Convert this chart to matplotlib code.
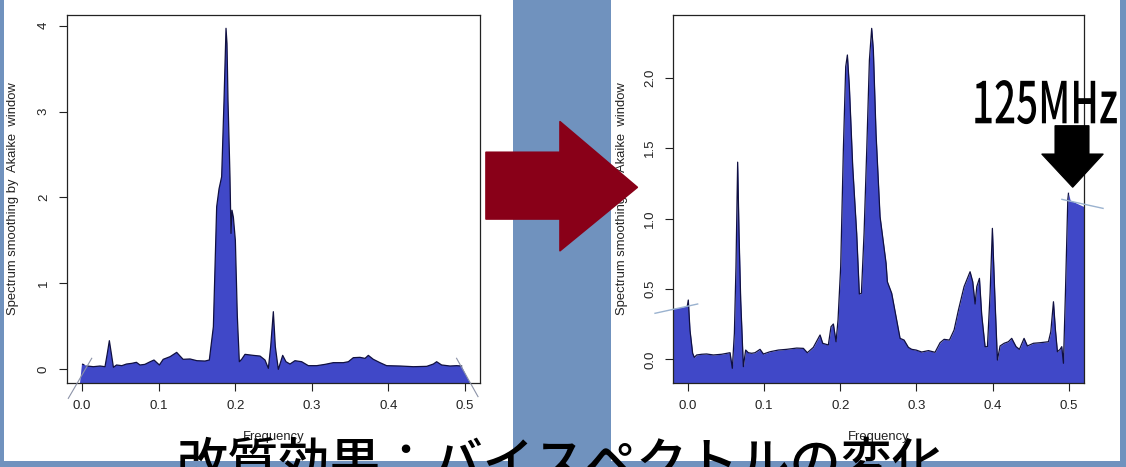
import matplotlib
matplotlib.use("Agg")
import matplotlib.pyplot as plt
from matplotlib.patches import Rectangle, Polygon
from matplotlib.patheffects import AbstractPathEffect
from matplotlib.transforms import Affine2D

# ---------------- data ----------------
# Bispectrum smoothed by Akaike window, before treatment
left_freq = [0.000, 0.007, 0.0148, 0.0235, 0.030, 0.033, 0.0357, 0.0383, 0.041, 0.045,
             0.052, 0.058, 0.065, 0.071, 0.0757, 0.082, 0.089, 0.094, 0.101, 0.106,
             0.115, 0.1236, 0.128, 0.132, 0.141, 0.150, 0.1606, 0.1662, 0.1715, 0.1758,
             0.1789, 0.1823, 0.1854, 0.188, 0.1893, 0.1906, 0.1932, 0.1945, 0.1958, 0.1976,
             0.2002, 0.2028, 0.2054, 0.2084, 0.2128, 0.2237, 0.2324, 0.2389, 0.2433, 0.2463,
             0.2498, 0.2524, 0.2563, 0.262, 0.2663, 0.2715, 0.278, 0.2868, 0.2955, 0.3064,
             0.3172, 0.3281, 0.3412, 0.3477, 0.3542, 0.3629, 0.3695, 0.3738, 0.3803, 0.389,
             0.3977, 0.4151, 0.4326, 0.450, 0.4587, 0.463, 0.4695, 0.4804, 0.4891, 0.4956]
left_spec = [0.058, 0.035, 0.027, 0.035, 0.027, 0.18, 0.33, 0.18, 0.02, 0.047,
             0.039, 0.058, 0.066, 0.078, 0.047, 0.054, 0.085, 0.105, 0.047, 0.113,
             0.144, 0.194, 0.151, 0.113, 0.117, 0.097, 0.093, 0.105, 0.493, 1.89,
             2.10, 2.24, 3.13, 3.97, 3.79, 3.13, 2.24, 1.58, 1.85, 1.77,
             1.50, 0.61, 0.085, 0.113, 0.171, 0.159, 0.151, 0.105, 0.008, 0.26,
             0.668, 0.26, -0.004, 0.159, 0.085, 0.058, 0.097, 0.085, 0.039, 0.039,
             0.054, 0.074, 0.074, 0.085, 0.132, 0.136, 0.124, 0.159, 0.113, 0.074,
             0.039, 0.035, 0.027, 0.031, 0.058, 0.085, 0.047, 0.035, 0.039, 0.035]
left_edge_freq = [-0.0026, 0.5065]
left_edge_lines = [((-0.0179, 0.0127), (-0.342, 0.125)),
                   ((0.489, 0.517), (0.125, -0.322))]

# After treatment
right_freq = [-0.0193, -0.0105, -0.0009, 0.0004, 0.0026, 0.0061, 0.0083, 0.0114, 0.018, 0.0245,
              0.0333, 0.0442, 0.0552, 0.0582, 0.0609, 0.063, 0.0652, 0.067, 0.0692, 0.0727,
              0.0757, 0.0792, 0.0836, 0.088, 0.0946, 0.099, 0.1077, 0.1187, 0.1296, 0.1427,
              0.1515, 0.1567, 0.1646, 0.1734, 0.1769, 0.1843, 0.1878, 0.1909, 0.1944, 0.197,
              0.2005, 0.204, 0.2071, 0.2093, 0.2119, 0.2163, 0.2215, 0.225, 0.2277, 0.2312,
              0.2347, 0.2382, 0.2412, 0.2434, 0.2469, 0.2522, 0.2601, 0.2618, 0.2675, 0.2732,
              0.2785, 0.2837, 0.2894, 0.2938, 0.2995, 0.3069, 0.3157, 0.3244, 0.331, 0.3363,
              0.3433, 0.3494, 0.3551, 0.3625, 0.3704, 0.3739, 0.377, 0.3792, 0.3827, 0.3857,
              0.3901, 0.3932, 0.3967, 0.3997, 0.4028, 0.4063, 0.4098, 0.4151, 0.4207, 0.4251,
              0.4308, 0.4352, 0.4413, 0.4457, 0.4536, 0.4623, 0.4733, 0.4764, 0.4799, 0.4825,
              0.4851, 0.4886, 0.4908, 0.493, 0.4956, 0.4987, 0.4996, 0.5018, 0.5105, 0.5201]
right_spec = [0.362, 0.369, 0.379, 0.421, 0.208, 0.043, 0.014, 0.031, 0.036, 0.038,
              0.031, 0.036, 0.047, -0.064, 0.185, 0.658, 1.40, 0.895, 0.421, -0.052,
              0.066, 0.047, 0.043, 0.047, 0.071, 0.038, 0.054, 0.066, 0.071, 0.080,
              0.078, 0.047, 0.085, 0.173, 0.114, 0.102, 0.232, 0.251, 0.125, 0.279,
              0.658, 1.486, 2.078, 2.161, 1.936, 1.368, 0.895, 0.464, 0.469, 0.895,
              1.486, 2.125, 2.35, 2.196, 1.605, 1.013, 0.682, 0.551, 0.469, 0.303,
              0.149, 0.137, 0.085, 0.071, 0.066, 0.052, 0.062, 0.050, 0.118, 0.142,
              0.137, 0.208, 0.350, 0.516, 0.622, 0.551, 0.393, 0.516, 0.575, 0.315,
              0.090, 0.090, 0.469, 0.930, 0.469, -0.005, 0.095, 0.114, 0.125, 0.149,
              0.090, 0.071, 0.149, 0.095, 0.114, 0.118, 0.125, 0.196, 0.409, 0.208,
              0.054, 0.071, 0.090, -0.028, 0.469, 1.131, 1.179, 1.131, 1.108, 1.084]
right_edge_lines = [((-0.0433, 0.0127), (0.327, 0.393)),
                    ((0.491, 0.545), (1.136, 1.072))]

x_ticks = [0.0, 0.1, 0.2, 0.3, 0.4, 0.5]
x_tick_labels = ["0.0", "0.1", "0.2", "0.3", "0.4", "0.5"]
left_y_ticks = [0, 1, 2, 3, 4]
left_y_tick_labels = ["0", "1", "2", "3", "4"]
right_y_ticks = [0.0, 0.5, 1.0, 1.5, 2.0]
right_y_tick_labels = ["0.0", "0.5", "1.0", "1.5", "2.0"]

y_label = "Spectrum smoothing by  Akaike  window"
x_label = "Frequency"
title = "改質効果：バイスペクトルの変化"
marker_label = "125MHz"

# ---------------- styling ----------------
W, H = 1126, 467
SLIDE_BLUE = "#7092be"
FILL = "#4048c8"
R_FONT = "Liberation Sans"
JP_FONT = ["Noto Sans CJK JP", "DejaVu Sans"]

fig = plt.figure(figsize=(W / 100, H / 100), dpi=100)
fig.patch.set_facecolor(SLIDE_BLUE)


def fx(px):
    return px / W


def fy(py):
    return 1 - py / H


# background panels
bg = fig.add_axes([0, 0, 1, 1], zorder=0)
bg.set_xlim(0, W)
bg.set_ylim(H, 0)
bg.axis("off")
bg.add_patch(Rectangle((4, 0), 509, 461, facecolor="white", edgecolor="none"))
bg.add_patch(Rectangle((611, 0), 509, 461, facecolor="white", edgecolor="none"))


def spectrum_axes(rect, xlim, ylim, yticks, yticklabels):
    ax = fig.add_axes(rect, zorder=1)
    ax.set_facecolor("none")
    ax.set_xlim(*xlim)
    ax.set_ylim(*ylim)
    ax.set_xticks(x_ticks)
    ax.set_xticklabels(x_tick_labels, fontfamily=R_FONT, fontsize=9.5, color="#222222")
    ax.set_yticks(yticks)
    ax.set_yticklabels(yticklabels, fontfamily=R_FONT, fontsize=9.5, color="#222222",
                       rotation=90, va="center")
    ax.tick_params(direction="out", length=5.8, width=0.8, color="#222222", pad=6.5)
    for s in ax.spines.values():
        s.set_color("#222222")
        s.set_linewidth(0.9)
    return ax


# left panel: before
axL = spectrum_axes([fx(67), fy(383), fx(413), 368 / H], (-0.0196, 0.5196), (-0.163, 4.125),
                    left_y_ticks, left_y_tick_labels)
ybot = axL.get_ylim()[0]
polyL = ([(left_edge_freq[0], ybot)] + list(zip(left_freq, left_spec))
         + [(left_edge_freq[1], ybot)])
axL.add_patch(Polygon(polyL, closed=True, facecolor=FILL, edgecolor="none", zorder=2))
axL.plot(left_freq[1:], left_spec[1:], color="#101040", lw=0.9, zorder=3)
axL.plot(left_freq[:2], left_spec[:2], color="#101040", lw=0.9, ls=(0, (2, 2)), zorder=3)
for xs, ys in left_edge_lines:
    axL.plot(xs, ys, color="#8c93a8", lw=0.8, clip_on=False, zorder=4)

# right panel: after
axR = spectrum_axes([fx(673.3), fy(383), fx(410.7), 368 / H], (-0.0193, 0.520), (-0.168, 2.445),
                    right_y_ticks, right_y_tick_labels)
ybotR = axR.get_ylim()[0]
axR.fill_between(right_freq, right_spec, ybotR, color=FILL, lw=0, zorder=2)
axR.plot(right_freq[2:-3], right_spec[2:-3], color="#101040", lw=0.9, zorder=3)
for xs, ys in right_edge_lines:
    axR.plot(xs, ys, color="#9ab2cf", lw=1.0, clip_on=False, zorder=4)

# axis titles
for cx in (13, 621.7):
    fig.text(fx(cx), fy(199), y_label, rotation=90, ha="center", va="center",
             fontfamily=R_FONT, fontsize=9.4, color="#222222", zorder=2)
for cx in (273.5, 878.7):
    fig.text(fx(cx), fy(437), x_label, ha="center", va="center",
             fontfamily=R_FONT, fontsize=9.4, color="#222222", zorder=2)

# overlay: arrows and captions
ov = fig.add_axes([0, 0, 1, 1], zorder=3)
ov.set_xlim(0, W)
ov.set_ylim(H, 0)
ov.axis("off")
ov.patch.set_alpha(0)

red_arrow = [(486, 152.3), (560, 152.3), (560, 121.7), (637.3, 187.3),
             (560, 250.7), (560, 219), (486, 219)]
ov.add_patch(Polygon(red_arrow, closed=True, facecolor="#890018", edgecolor="#890018",
                     lw=1.2, joinstyle="round"))
black_arrow = [(1055, 125.7), (1089, 125.7), (1089, 154), (1103.3, 154),
               (1072.7, 187.3), (1041.7, 154), (1055, 154)]
ov.add_patch(Polygon(black_arrow, closed=True, facecolor="black", edgecolor="black", lw=0.8))

# bottom slide border
ov.add_patch(Rectangle((0, 461), W, 6, facecolor=SLIDE_BLUE, edgecolor="none", zorder=1))


class HorizontalSqueeze(AbstractPathEffect):
    """Draw text narrower by scaling glyph paths about a fixed x position."""

    def __init__(self, factor, x_anchor):
        super().__init__()
        self.factor = factor
        self.x_anchor = x_anchor

    def draw_path(self, renderer, gc, tpath, affine, rgbFace=None):
        squeeze = (Affine2D().translate(-self.x_anchor, 0)
                   .scale(self.factor, 1).translate(self.x_anchor, 0))
        renderer.draw_path(gc, tpath, affine + squeeze, rgbFace)


mhz = fig.text(fx(972), fy(123.3), marker_label, ha="left", va="baseline",
               fontfamily=JP_FONT, fontsize=41.5, fontweight="medium", color="black",
               zorder=5)
renderer = fig.canvas.get_renderer()
natural_w = mhz.get_window_extent(renderer).width
mhz.set_path_effects([HorizontalSqueeze(146.0 / natural_w, 972)])

fig.text(fx(560), fy(479), title, ha="center", va="baseline",
         fontfamily=JP_FONT, fontsize=36.8, fontweight="medium", color="black", zorder=6)

fig.savefig("out.png", dpi=100, facecolor=fig.get_facecolor())
